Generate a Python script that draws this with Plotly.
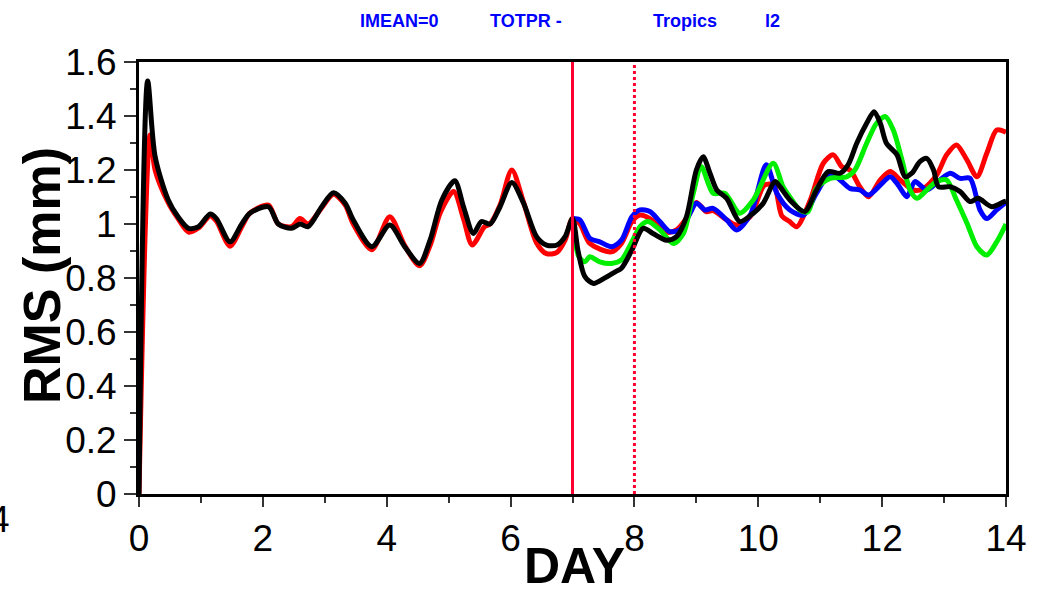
import plotly.graph_objects as go

# ---- data ----
red_days = [0, 0.18, 0.26, 0.47, 0.63, 0.80, 0.96, 1.15, 1.25, 1.47, 1.66, 1.79, 2.09, 2.25, 2.46, 2.6, 2.73,
            2.95, 3.14, 3.33, 3.46, 3.76, 4.05, 4.29, 4.53, 4.70, 4.87, 5.08, 5.24, 5.38, 5.58, 5.67, 5.83,
            6.02, 6.21, 6.42, 6.58, 6.75, 6.88, 7.0, 7.12, 7.28, 7.63, 7.79, 7.96, 8.09, 8.25, 8.52, 8.68,
            8.87, 9.0, 9.16, 9.27, 9.49, 9.65, 9.87, 10.1, 10.25, 10.38, 10.5, 10.62, 10.84, 11.05, 11.21,
            11.35, 11.48, 11.64, 11.78, 11.97, 12.13, 12.29, 12.5, 12.66, 12.88, 13.04, 13.2, 13.37, 13.53,
            13.69, 13.85, 14.0]
red_vals = [0, 1.33, 1.2, 1.08, 1.02, 0.97, 0.985, 1.03, 1.01, 0.918, 0.99, 1.04, 1.07, 1.0, 0.99, 1.02, 1.0,
            1.06, 1.11, 1.07, 1.0, 0.905, 1.027, 0.92, 0.845, 0.92, 1.045, 1.12, 1.02, 0.922, 0.99, 1.0, 1.07,
            1.2, 1.08, 0.93, 0.89, 0.895, 0.94, 1.02, 1.0, 0.928, 0.897, 0.928, 1.009, 1.033, 1.02, 0.97, 0.978,
            1.03, 1.08, 1.046, 1.05, 1.015, 0.996, 1.027, 1.144, 1.144, 1.03, 1.01, 0.99, 1.089, 1.225, 1.256,
            1.212, 1.2, 1.138, 1.101, 1.163, 1.194, 1.163, 1.126, 1.13, 1.181, 1.256, 1.293, 1.237, 1.175,
            1.262, 1.348, 1.34]

blue_days = [7.0, 7.12, 7.28, 7.44, 7.63, 7.79, 7.96, 8.09, 8.25, 8.41, 8.57, 8.73, 8.87, 9.0, 9.14, 9.27,
             9.49, 9.65, 9.87, 10.13, 10.30, 10.51, 10.73, 10.94, 11.16, 11.32, 11.48, 11.64, 11.78, 11.97,
             12.13, 12.26, 12.4, 12.53, 12.72, 12.93, 13.1, 13.26, 13.42, 13.58, 13.69, 13.85, 14.0]
blue_vals = [1.02, 1.015, 0.947, 0.934, 0.916, 0.94, 1.027, 1.052, 1.046, 1.009, 0.972, 0.978, 1.027, 1.077,
             1.052, 1.058, 1.015, 0.978, 1.033, 1.219, 1.114, 1.052, 1.033, 1.114, 1.188, 1.163, 1.132, 1.126,
             1.107, 1.144, 1.175, 1.144, 1.101, 1.157, 1.126, 1.163, 1.188, 1.169, 1.169, 1.052, 1.02, 1.052,
             1.08]

green_days = [7.0, 7.1, 7.2, 7.28, 7.44, 7.63, 7.79, 7.96, 8.09, 8.22, 8.41, 8.63, 8.79, 8.95, 9.08, 9.27,
              9.46, 9.70, 9.92, 10.24, 10.4, 10.51, 10.67, 10.8, 10.94, 11.16, 11.43, 11.56, 11.75, 11.91,
              12.05, 12.18, 12.32, 12.45, 12.56, 12.72, 12.88, 13.04, 13.2, 13.37, 13.53, 13.69, 13.85, 14.0]
green_vals = [1.02, 0.88, 0.86, 0.879, 0.86, 0.854, 0.867, 0.934, 0.99, 1.009, 0.978, 0.928, 0.965, 1.114,
              1.212, 1.114, 1.114, 1.04, 1.089, 1.225, 1.138, 1.1, 1.052, 1.045, 1.132, 1.169, 1.175, 1.2,
              1.299, 1.373, 1.398, 1.348, 1.237, 1.126, 1.095, 1.126, 1.157, 1.163, 1.089, 1.003, 0.916,
              0.885, 0.934, 1.0]

black_days = [0, 0.14, 0.26, 0.47, 0.63, 0.80, 0.96, 1.15, 1.25, 1.47, 1.66, 1.79, 2.09, 2.25, 2.46, 2.6,
              2.73, 2.95, 3.14, 3.33, 3.46, 3.76, 4.05, 4.29, 4.53, 4.70, 4.89, 5.10, 5.24, 5.40, 5.53, 5.67,
              5.83, 6.02, 6.21, 6.42, 6.58, 6.75, 6.88, 7.0, 7.09, 7.2, 7.34, 7.52, 7.69, 7.79, 7.96, 8.14,
              8.3, 8.52, 8.68, 8.84, 9.0, 9.11, 9.22, 9.33, 9.49, 9.70, 9.92, 10.08, 10.27, 10.35, 10.51,
              10.75, 10.94, 11.13, 11.32, 11.45, 11.59, 11.75, 11.87, 11.97, 12.07, 12.24, 12.37, 12.48,
              12.61, 12.72, 12.83, 12.91, 13.1, 13.26, 13.42, 13.55, 13.77, 13.97, 14.0]
black_vals = [0, 1.53, 1.25, 1.09, 1.027, 0.984, 0.99, 1.037, 1.02, 0.934, 1.0, 1.04, 1.064, 1.0, 0.984, 1.0,
              0.99, 1.064, 1.116, 1.077, 1.015, 0.916, 0.996, 0.916, 0.854, 0.94, 1.089, 1.16, 1.064, 0.965,
              1.009, 1.0, 1.064, 1.154, 1.077, 0.953, 0.922, 0.922, 0.953, 1.02, 0.9, 0.805, 0.78, 0.80,
              0.823, 0.836, 0.904, 0.984, 0.965, 0.94, 0.953, 1.027, 1.2, 1.249, 1.188, 1.126, 1.095, 1.009,
              1.04, 1.077, 1.157, 1.138, 1.089, 1.046, 1.126, 1.194, 1.188, 1.219, 1.299, 1.373, 1.416,
              1.373, 1.299, 1.256, 1.175, 1.188, 1.231, 1.243, 1.2, 1.138, 1.138, 1.12, 1.083, 1.095, 1.064,
              1.083, 1.085]

marker_days = [7, 8]          # vertical reference lines (solid, dotted)
y_ticks = [0, 0.2, 0.4, 0.6, 0.8, 1.0, 1.2, 1.4, 1.6]
y_tick_labels = ["0", "0.2", "0.4", "0.6", "0.8", "1", "1.2", "1.4", "1.6"]
x_ticks = [0, 2, 4, 6, 8, 10, 12, 14]
title_parts = ["IMEAN=0", "TOTPR -", "Tropics", "l2"]

# ---- layout geometry (pixels) ----
W, H = 1038, 591
ML, MR, MT, MB = 139, 32, 62, 97
PW, PH = W - ML - MR, H - MT - MB


def px_x(px):
    return (px - ML) / PW


def px_y(py):
    return (H - MB - py) / PH


FONT = "Liberation Sans, Arial, Helvetica, sans-serif"

fig = go.Figure()
series = [
    (red_days, red_vals, "#ff0000"),
    (blue_days, blue_vals, "#0000ff"),
    (green_days, green_vals, "#00ee00"),
    (black_days, black_vals, "#000000"),
]
for d, v, c in series:
    fig.add_trace(go.Scatter(x=d, y=v, mode="lines",
                             line=dict(color=c, width=5, shape="spline", smoothing=0.8),
                             showlegend=False, hoverinfo="skip"))

for day, dash in zip(marker_days, ["solid", "dot"]):
    fig.add_shape(type="line", xref="x", yref="paper", x0=day, x1=day, y0=0, y1=1,
                  line=dict(color="#ff0033", width=3, dash=dash), layer="above")

annotations = []
title_lefts = [358, 488, 651, 763]
for txt, lx in zip(title_parts, title_lefts):
    annotations.append(dict(text=f"<b>{txt}</b>", xref="paper", yref="paper", x=px_x(lx), y=px_y(21),
                            xanchor="left", yanchor="middle", showarrow=False,
                            font=dict(family=FONT, size=18, color="#0000ff")))
annotations.append(dict(text="<b>DAY</b>", xref="paper", yref="paper", x=px_x(574), y=px_y(566),
                        xanchor="center", yanchor="middle", showarrow=False,
                        font=dict(family=FONT, size=50, color="black")))
annotations.append(dict(text="<b>RMS (mm)</b>", xref="paper", yref="paper", x=px_x(42), y=px_y(276),
                        xanchor="center", yanchor="middle", showarrow=False, textangle=-90,
                        font=dict(family=FONT, size=52, color="black")))
annotations.append(dict(text="4", xref="paper", yref="paper", x=px_x(12), y=px_y(519),
                        xanchor="right", yanchor="middle", showarrow=False,
                        font=dict(family=FONT, size=37, color="black")))

fig.update_layout(
    width=W, height=H,
    margin=dict(l=ML, r=MR, t=MT, b=MB, pad=0),
    paper_bgcolor="white", plot_bgcolor="white",
    annotations=annotations,
    xaxis=dict(range=[0, 14], tickvals=x_ticks, ticks="outside", ticklen=10, tickwidth=1.5,
               tickcolor="#333", showgrid=False, zeroline=False, showline=True, linewidth=3,
               linecolor="black", mirror=True,
               minor=dict(dtick=1, ticks="outside", ticklen=6, tickwidth=1.5, tickcolor="#333", showgrid=False),
               tickfont=dict(family=FONT, size=37, color="black")),
    yaxis=dict(range=[0, 1.6], tickvals=y_ticks, ticktext=y_tick_labels, ticks="outside", ticklen=12,
               tickwidth=1.5, tickcolor="#333", showgrid=False, zeroline=False, showline=True,
               linewidth=3, linecolor="black", mirror=True,
               minor=dict(dtick=0.1, ticks="outside", ticklen=6, tickwidth=1.5, tickcolor="#333",
                          showgrid=False),
               tickfont=dict(family=FONT, size=37, color="black")),
)

fig.write_html("out.html")
